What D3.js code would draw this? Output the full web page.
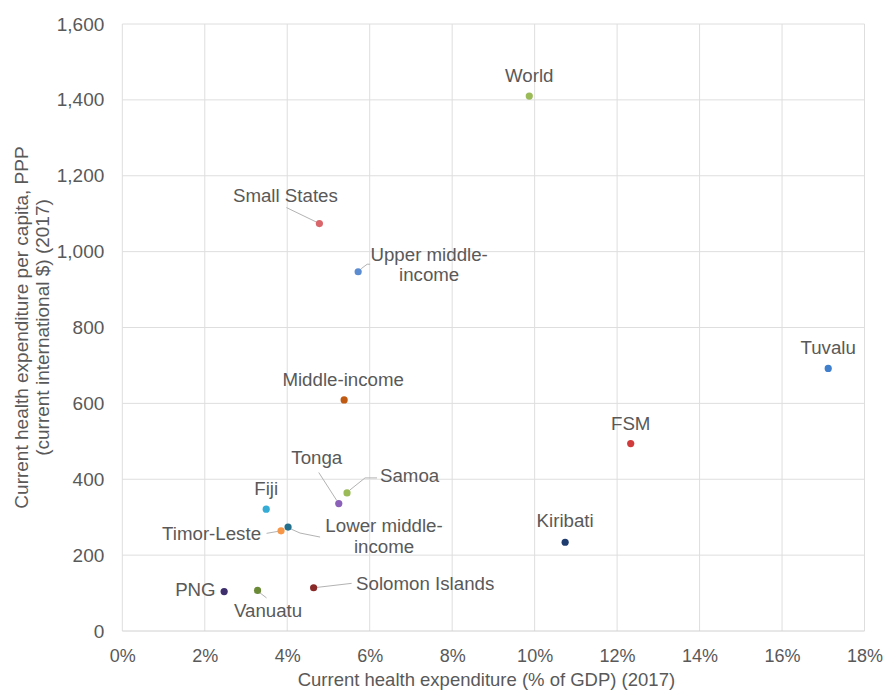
<!DOCTYPE html>
<html>
<head>
<meta charset="utf-8">
<script src="https://cdn.jsdelivr.net/npm/d3@7"></script>
<style>
  html, body { margin: 0; padding: 0; background: #fff; }
  svg { display: block; font-family: "Liberation Sans", Arial, sans-serif; }
</style>
</head>
<body>
<svg id="chart" width="884" height="690"></svg>
<script>
// ---- data ----
const names = ["World", "Tuvalu", "FSM", "Kiribati", "Small States", "Upper middle-income",
  "Middle-income", "Tonga", "Samoa", "Fiji", "Timor-Leste", "Lower middle-income",
  "PNG", "Vanuatu", "Solomon Islands"];
const healthPctGDP = [9.87, 17.12, 12.33, 10.74, 4.78, 5.72, 5.38, 5.25, 5.45, 3.49, 3.85, 4.02, 2.47, 3.28, 4.64];
const healthPerCapita = [1410, 692, 494, 234, 1074, 947, 609, 336, 364, 321, 264, 274, 104, 107, 114];
const dotColors = ["#9bbb59", "#3f7fcc", "#d13b3b", "#1f3c6e", "#d9666b", "#5b8bd0",
  "#c05a12", "#8a60b8", "#9bbb59", "#34acd6", "#f79646", "#236f8c",
  "#3d2f6b", "#6b8a38", "#8a2a28"];
const xTicks = [0, 2, 4, 6, 8, 10, 12, 14, 16, 18];
const yTicks = [0, 200, 400, 600, 800, 1000, 1200, 1400, 1600];
const xTitle = "Current health expenditure (% of GDP) (2017)";
const yTitleLines = ["Current health expenditure per capita, PPP", "(current international $) (2017)"];

// ---- label layout (offsets from each point, in px) ----
const labelLayout = {
  "World":               { dx: 0,    dy: -14, anchor: "middle" },
  "Tuvalu":              { dx: 0,    dy: -14, anchor: "middle" },
  "FSM":                 { dx: 0,    dy: -14, anchor: "middle" },
  "Kiribati":            { dx: 0,    dy: -15, anchor: "middle" },
  "Small States":        { dx: -34,  dy: -22, anchor: "middle", leader: [[-3, -1.5], [-33, -16]] },
  "Upper middle-income": { dx: 71,   dy: -11, anchor: "middle", lines: ["Upper middle-", "income"], leader: [[3, -3], [9, -7.5], [12, -7.5]] },
  "Middle-income":       { dx: -1,   dy: -14, anchor: "middle" },
  "Tonga":               { dx: -22,  dy: -40, anchor: "middle", leader: [[-2, -3], [-20, -31]] },
  "Samoa":               { dx: 33,   dy: -10.5, anchor: "start", leader: [[3, -3], [18, -15], [30, -15]] },
  "Fiji":                { dx: 0,    dy: -14, anchor: "middle" },
  "Timor-Leste":         { dx: -20,  dy: 9.5, anchor: "end", leader: [[-3, 0.5], [-14.5, 2.5]] },
  "Lower middle-income": { dx: 96,   dy: 5,  anchor: "middle", lines: ["Lower middle-", "income"], leader: [[3, 2], [12, 6], [32, 10]] },
  "PNG":                 { dx: -8.5, dy: 4,  anchor: "end" },
  "Vanuatu":             { dx: 10.5, dy: 27, anchor: "middle", leader: [[2.5, 2.5], [9, 7.5]] },
  "Solomon Islands":     { dx: 42.5, dy: 2.5, anchor: "start", leader: [[3, -0.3], [38, -4.4]] }
};

const svg = d3.select("#chart");
const plot = { left: 122.3, right: 864.5, top: 24, bottom: 631 };

const x = d3.scaleLinear().domain([0, 18]).range([plot.left, plot.right]);
const y = d3.scaleLinear().domain([0, 1600]).range([plot.bottom, plot.top]);

const textColor = "#595959";
const gridColor = "#dedede";

// gridlines
svg.append("g").selectAll("line.v").data(xTicks).join("line")
  .attr("x1", d => x(d)).attr("x2", d => x(d))
  .attr("y1", plot.top).attr("y2", plot.bottom)
  .attr("stroke", gridColor).attr("stroke-width", 1);
svg.append("g").selectAll("line.h").data(yTicks).join("line")
  .attr("x1", plot.left).attr("x2", plot.right)
  .attr("y1", d => y(d)).attr("y2", d => y(d))
  .attr("stroke", d => d === 0 ? "#d0d0d0" : gridColor).attr("stroke-width", 1);

// axes (labels only)
const xAxis = d3.axisBottom(x).tickValues(xTicks).tickFormat(d => d + "%").tickSize(0).tickPadding(18);
const gx = svg.append("g").attr("transform", `translate(0,${plot.bottom})`).call(xAxis);
gx.select(".domain").remove();
gx.selectAll("text").attr("fill", textColor).style("font-size", "18px").style("font-family", "Liberation Sans, Arial, sans-serif");

const fmt = d3.format(",");
const yAxis = d3.axisLeft(y).tickValues(yTicks).tickFormat(d => fmt(d)).tickSize(0).tickPadding(18);
const gy = svg.append("g").attr("transform", `translate(${plot.left},0)`).call(yAxis);
gy.select(".domain").remove();
gy.selectAll("text").attr("fill", textColor).style("font-size", "19px").style("font-family", "Liberation Sans, Arial, sans-serif");

// axis titles
svg.append("text")
  .attr("x", (plot.left + plot.right) / 2 - 7).attr("y", 686)
  .attr("text-anchor", "middle").attr("fill", textColor)
  .style("font-size", "18.5px").text(xTitle);

const yT = svg.append("text")
  .attr("transform", `translate(0,${(plot.top + plot.bottom) / 2}) rotate(-90)`)
  .attr("text-anchor", "middle").attr("fill", textColor)
  .style("font-size", "19px");
yT.selectAll("tspan").data(yTitleLines).join("tspan")
  .attr("x", 0).attr("y", (d, i) => 28 + i * 20.5).text(d => d);

// data rows
const rows = names.map((n, i) => ({ name: n, gx: healthPctGDP[i], gy: healthPerCapita[i], color: dotColors[i] }));

// leaders
const lineGen = d3.line();
svg.append("g").selectAll("path").data(rows.filter(r => labelLayout[r.name].leader)).join("path")
  .attr("d", r => lineGen(labelLayout[r.name].leader.map(p => [x(r.gx) + p[0], y(r.gy) + p[1]])))
  .attr("fill", "none").attr("stroke", "#b3b3b3").attr("stroke-width", 1);

// points
svg.append("g").selectAll("circle").data(rows).join("circle")
  .attr("cx", r => x(r.gx)).attr("cy", r => y(r.gy)).attr("r", 3.6)
  .attr("fill", r => r.color);

// labels
const lbl = svg.append("g").selectAll("text").data(rows).join("text")
  .attr("fill", textColor).style("font-size", "18.7px")
  .attr("text-anchor", r => labelLayout[r.name].anchor);
lbl.each(function (r) {
  const L = labelLayout[r.name];
  const lines = L.lines || [r.name];
  d3.select(this).selectAll("tspan").data(lines).join("tspan")
    .attr("x", x(r.gx) + L.dx)
    .attr("y", (d, i) => y(r.gy) + L.dy + i * 20.5)
    .text(d => d);
});
</script>
</body>
</html>
